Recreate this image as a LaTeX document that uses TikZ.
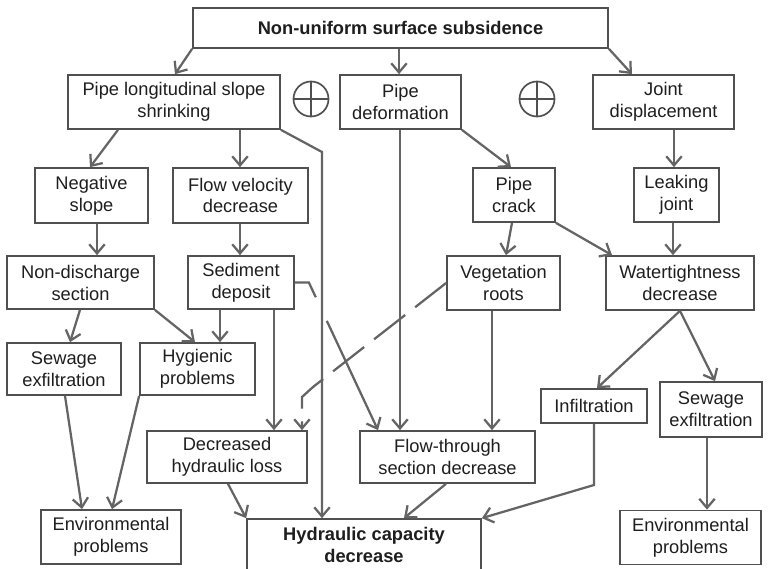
\documentclass[tikz,border=0pt]{standalone}
\usepackage{fontspec}
\setmainfont{Liberation Sans}
\usepackage{tikz}
\usetikzlibrary{arrows.meta,calc}
\definecolor{boxline}{RGB}{80,80,80}
\definecolor{linkline}{RGB}{100,100,100}
\definecolor{txtcol}{RGB}{30,30,30}

\begin{document}
\begin{tikzpicture}[x=0.025cm, y=-0.025cm,
    box/.style={draw=boxline, line width=1.2pt, align=center, inner sep=0pt,
        text=txtcol, font=\fontsize{13}{15.6}\selectfont},
    link/.style={draw=linkline, line width=1.6pt},
    arr/.style={link, -{Straight Barb[length=6.5pt,width=11pt]}}]
    \useasboundingbox (0,0) rectangle (768,569);

    % Top level
    \node[box, font=\fontsize{13}{15.6}\selectfont\bfseries, minimum width=10.375cm, minimum height=1.0cm] (subs) at (400.5,28) {Non-uniform surface subsidence};

    % Causes
    \node[box, minimum width=5.3cm, minimum height=1.35cm] (slope) at (174,102) {Pipe longitudinal slope\\shrinking};
    \node[box, minimum width=3.025cm, minimum height=1.35cm] (deform) at (400.5,102) {Pipe\\deformation};
    \node[box, minimum width=3.525cm, minimum height=1.35cm] (joint) at (663.5,102) {Joint\\displacement};

    % Operators
    \foreach \cx in {311,537} {
        \draw[boxline, line width=1.2pt] (\cx,99) circle[radius=17.5];
        \draw[boxline, line width=1.2pt] (\cx-17.5,99) -- (\cx+17.5,99) (\cx,81.5) -- (\cx,116.5);
    }

    % Second row
    \node[box, minimum width=2.825cm, minimum height=1.375cm] (neg) at (91.5,195.5) {Negative\\slope};
    \node[box, minimum width=3.375cm, minimum height=1.375cm] (velo) at (240.5,195.5) {Flow velocity\\decrease};
    \node[box, minimum width=2.05cm, minimum height=1.35cm] (crack) at (514,195) {Pipe\\crack};
    \node[box, minimum width=2.125cm, minimum height=1.35cm] (leak) at (676.5,195) {Leaking\\joint};

    % Third row
    \node[box, minimum width=3.675cm, minimum height=1.325cm] (nodis) at (80.5,282.5) {Non-discharge\\section};
    \node[box, minimum width=2.65cm, minimum height=1.325cm] (sed) at (241,282.5) {Sediment\\deposit};
    \node[box, minimum width=2.825cm, minimum height=1.35cm] (veg) at (503.5,283) {Vegetation\\roots};
    \node[box, minimum width=3.7cm, minimum height=1.35cm] (tight) at (680,283) {Watertightness\\decrease};

    % Fourth row
    \node[box, minimum width=2.85cm, minimum height=1.3cm] (exfa) at (64,369) {Sewage\\exfiltration};
    \node[box, minimum width=2.875cm, minimum height=1.3cm] (hyg) at (197.5,369) {Hygienic\\problems};
    \node[box, minimum width=2.65cm, minimum height=0.85cm] (infil) at (594,406) {Infiltration};
    \node[box, minimum width=2.55cm, minimum height=1.375cm] (exfb) at (711,409.5) {Sewage\\exfiltration};

    % Fifth row
    \node[box, minimum width=4.0cm, minimum height=1.3cm] (loss) at (227,457) {Decreased\\hydraulic loss};
    \node[box, minimum width=4.375cm, minimum height=1.3cm] (section) at (447.5,457) {Flow-through\\section decrease};

    % Results
    \node[box, minimum width=3.5cm, minimum height=1.35cm] (enva) at (111,537) {Environmental\\problems};
    \node[box, minimum width=3.525cm, minimum height=1.35cm] (envb) at (690.5,537.5) {Environmental\\problems};
    \node[box, font=\fontsize{13}{15.6}\selectfont\bfseries, minimum width=5.85cm, minimum height=1.3cm] (capa) at (364,545) {Hydraulic capacity\\decrease};

    % Arrows from the top
    \draw[arr] (subs.south west) -- (175,0 |- slope.north);
    \draw[arr] (subs.south -| 399,0) -- (399,0 |- deform.north);
    \draw[arr] (subs.south east) -- (632,0 |- joint.north);

    % Slope branch
    \draw[arr] (118,0 |- slope.south) -- (90,0 |- neg.north);
    \draw[arr] (240,0 |- slope.south) -- (240,0 |- velo.north);
    \draw[arr] (slope.south east) -- (322,152) -- (322,0 |- capa.north);
    \draw[arr] (97,0 |- neg.south) -- (97,0 |- nodis.north);
    \draw[arr] (240,0 |- velo.south) -- (240,0 |- sed.north);
    \draw[arr] (80,0 |- nodis.south) -- (70,0 |- exfa.north);
    \draw[arr] (nodis.south east) -- (195,0 |- hyg.north);
    \draw[arr] (220,0 |- sed.south) -- (220,0 |- hyg.north);
    \draw[arr] (274,0 |- sed.south) -- (274,0 |- loss.north);

    % Sediment to section, broken where it passes the line
    \coordinate (sedturn) at ($(sed.east)+(14,0)$);
    \coordinate (secin) at (378,0 |- section.north);
    \draw[link] (sed.east) -- (sedturn) -- ($(sedturn)!0.1!(secin)$);
    \draw[arr] ($(sedturn)!0.26!(secin)$) -- (secin);

    % Deformation branch
    \draw[arr] (400,0 |- deform.south) -- (400,0 |- section.north);
    \draw[arr] (deform.south east) -- (511,0 |- crack.north);
    \draw[arr] (512,0 |- crack.south) -- (506,0 |- veg.north);
    \draw[arr] (crack.south east) -- (612,0 |- tight.north);
    \draw[arr, dash pattern=on 28pt off 9pt] (veg.west) -- (313,387) -- (302,397) -- (302,0 |- loss.north);
    \draw[arr] (492,0 |- veg.south) -- (492,0 |- section.north);

    % Joint branch
    \draw[arr] (674,0 |- joint.south) -- (674,0 |- leak.north);
    \draw[arr] (673,0 |- leak.south) -- (673,0 |- tight.north);
    \draw[arr] (680,0 |- tight.south) -- (597,0 |- infil.north);
    \draw[arr] (680,0 |- tight.south) -- (715,0 |- exfb.north);

    % Into the results
    \draw[arr] (65,0 |- exfa.south) -- (82,0 |- enva.north);
    \draw[arr] (hyg.south west) -- (112,0 |- enva.north);
    \draw[arr] (228,0 |- loss.south) -- (capa.north west);
    \draw[arr] (446,0 |- section.south) -- (404,0 |- capa.north);
    \draw[arr] (infil.south) -- (594,485) -- (capa.north east);
    \draw[arr] (707,0 |- exfb.south) -- (707,0 |- envb.north);
\end{tikzpicture}
\end{document}
